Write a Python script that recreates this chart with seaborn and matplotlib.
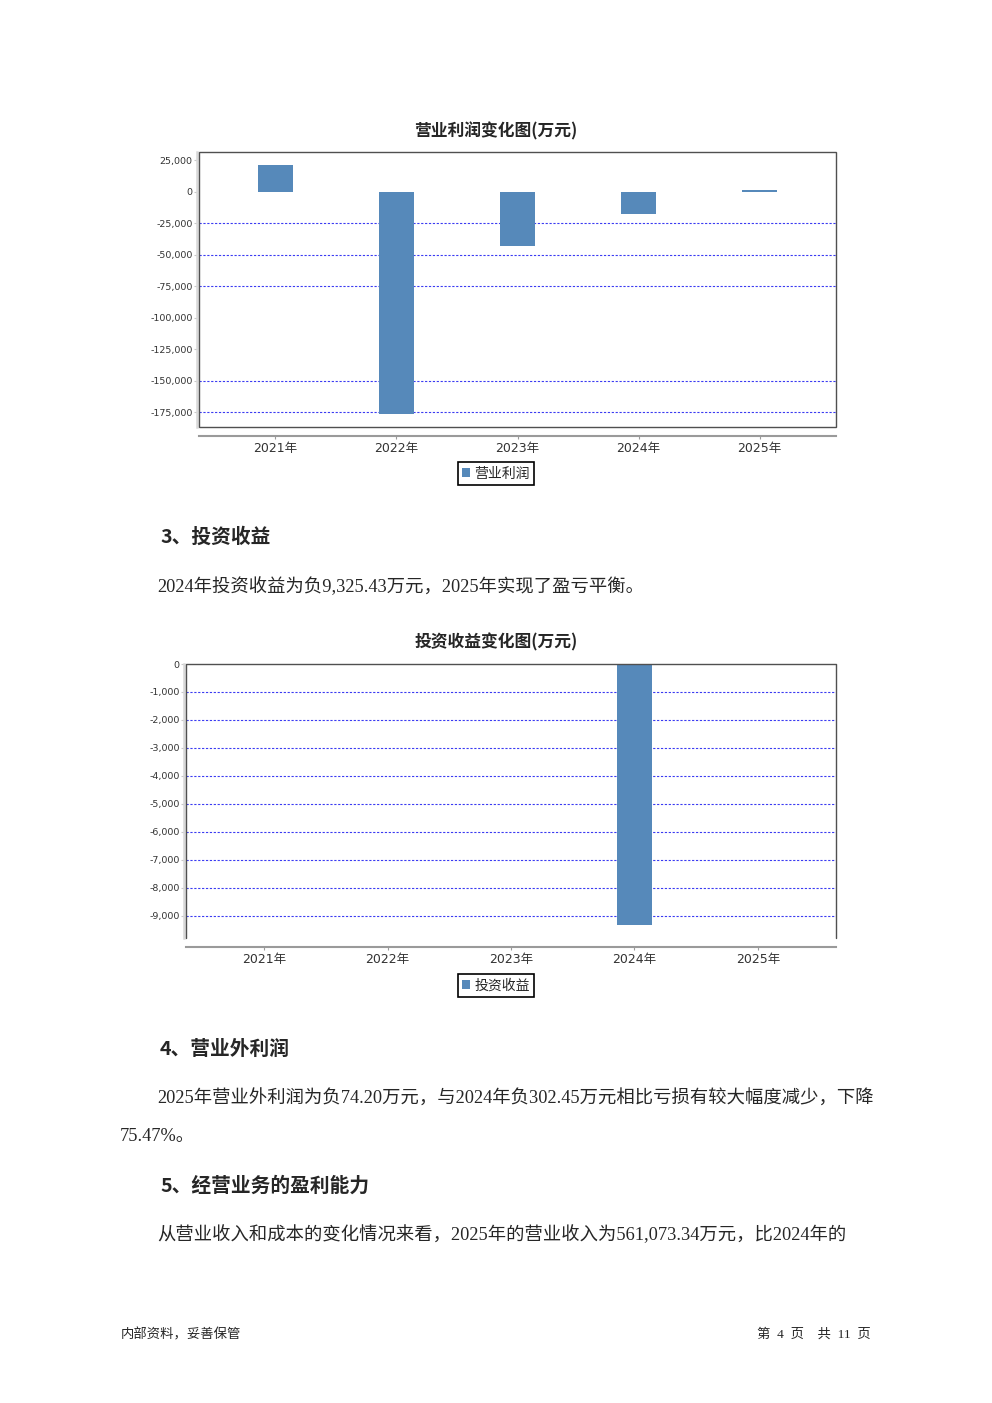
import matplotlib
matplotlib.use('Agg')
import pandas as pd
import seaborn as sns
import matplotlib.pyplot as plt
from matplotlib.ticker import FuncFormatter
from matplotlib.patches import Rectangle

# data read from the page
years = ['2021年', '2022年', '2023年', '2024年', '2025年']
op_profit = [21200, -176400, -42900, -17500, 1200]        # 营业利润(万元)
inv_income = [0, 0, 0, -9325.43, 0]                        # 投资收益(万元)
op_ticks = [25000, 0, -25000, -50000, -75000, -100000, -125000, -150000, -175000]
inv_ticks = [0, -1000, -2000, -3000, -4000, -5000, -6000, -7000, -8000, -9000]

W, H = 992, 1403
BAR = '#5689BA'
GRID = '#3B3BF2'
CJK = 'Noto Sans CJK SC'
BODY = ['Liberation Serif', CJK]

sns.set_theme(style='white')
plt.rcParams['font.family'] = ['DejaVu Sans', CJK]
plt.rcParams['axes.unicode_minus'] = False

fig = plt.figure(figsize=(W / 100, H / 100), dpi=100)


def px_axes(x0, y0, x1, y1):
    return fig.add_axes([x0 / W, 1 - y1 / H, (x1 - x0) / W, (y1 - y0) / H])


def bar_chart(ax, values, ticks, ylim, label, no_grid, legend_y, full_frame=True):
    df = pd.DataFrame({'year': years, 'value': values})
    sns.barplot(data=df, x='year', y='value', color=BAR, saturation=1, width=0.29,
                ax=ax, label=label, linewidth=0, zorder=3)
    ax.set_xlim(-0.632, 4.632)
    ax.set_ylim(*ylim)
    ax.set_yticks(ticks)
    ax.yaxis.set_major_formatter(FuncFormatter(lambda v, p: f'{v:,.0f}'))
    ax.set_xlabel('')
    ax.set_ylabel('')

    # dashed blue grid, some levels are not drawn in the original
    ax.grid(False)
    grid_at = [t for t in ticks if t not in no_grid]
    ax.hlines(grid_at, 0, 1, transform=ax.get_yaxis_transform(), colors=GRID,
              linestyles=(0, (2, 1.5)), linewidth=0.8, zorder=1)

    # offset axis lines + dark plot outline
    for s in ['top', 'right']:
        ax.spines[s].set_visible(False)
    ax.spines['left'].set_position(('outward', 1.5))
    ax.spines['left'].set_color('#D8D8D8')
    ax.spines['left'].set_linewidth(1.8)
    ax.spines['bottom'].set_position(('outward', 6.5))
    ax.spines['bottom'].set_color('#9A9A9A')
    ax.spines['bottom'].set_linewidth(1.5)
    if full_frame:
        ax.add_patch(Rectangle((0, 0), 1, 1, transform=ax.transAxes, fill=False,
                               edgecolor='#505050', linewidth=1.0, clip_on=False, zorder=5))
    else:
        ax.plot([0, 0, 1, 1], [0, 1, 1, 0], transform=ax.transAxes, color='#505050',
                linewidth=1.0, clip_on=False, zorder=5)

    ax.tick_params(axis='y', left=True, length=2, width=0.8, color='#C8C8C8', pad=1,
                   labelsize=6.8, labelcolor='#333333')
    ax.tick_params(axis='x', bottom=True, length=2.5, width=0.8, color='#9A9A9A', pad=2,
                   labelsize=9, labelcolor='#333333')

    leg = ax.legend(loc='center', bbox_to_anchor=(496 / W, 1 - legend_y / H),
                    bbox_transform=fig.transFigure, frameon=True, fancybox=False,
                    edgecolor='black', framealpha=1, handlelength=0.55, handleheight=0.55,
                    handletextpad=0.3, borderpad=0.3, borderaxespad=0,
                    prop={'family': CJK, 'size': 10})
    leg.get_frame().set_linewidth(1.2)


# chart 1: 营业利润
ax1 = px_axes(199, 152, 836, 427)
bar_chart(ax1, op_profit, op_ticks, (-186700, 31700), '营业利润',
          [25000, 0, -100000, -125000], 473.5)
fig.text(496 / W, 1 - 131.5 / H, '营业利润变化图(万元)', ha='center', va='center',
         family=CJK, weight='bold', fontsize=12.1)

# chart 2: 投资收益
ax2 = px_axes(186, 664, 836, 938)
bar_chart(ax2, inv_income, inv_ticks, (-9786, 0), '投资收益', [0], 985.5, full_frame=False)
fig.text(496 / W, 1 - 642.5 / H, '投资收益变化图(万元)', ha='center', va='center',
         family=CJK, weight='bold', fontsize=12.1)


def line(x, y, s, size=13.2, bold=False, ha='left', family=None):
    fig.text(x / W, 1 - (y + 1.5) / H, s, ha=ha, va='center', fontsize=size,
             family=family or (CJK if bold else BODY), weight='bold' if bold else 'normal')


line(160, 536, '3、投资收益', size=14.2, bold=True)
line(157, 585, '2024年投资收益为负9,325.43万元，2025年实现了盈亏平衡。')
line(160, 1048, '4、营业外利润', size=14.2, bold=True)
line(157, 1097, '2025年营业外利润为负74.20万元，与2024年负302.45万元相比亏损有较大幅度减少，下降')
line(120, 1135, '75.47%。')
line(160, 1184, '5、经营业务的盈利能力', size=14.2, bold=True)
line(157, 1233, '从营业收入和成本的变化情况来看，2025年的营业收入为561,073.34万元，比2024年的')

line(121, 1333, '内部资料，妥善保管', size=9.6, family=BODY)
line(871, 1333, '第  4  页    共  11  页', size=9.6, ha='right', family=BODY)

fig.savefig('out.png', dpi=100)
